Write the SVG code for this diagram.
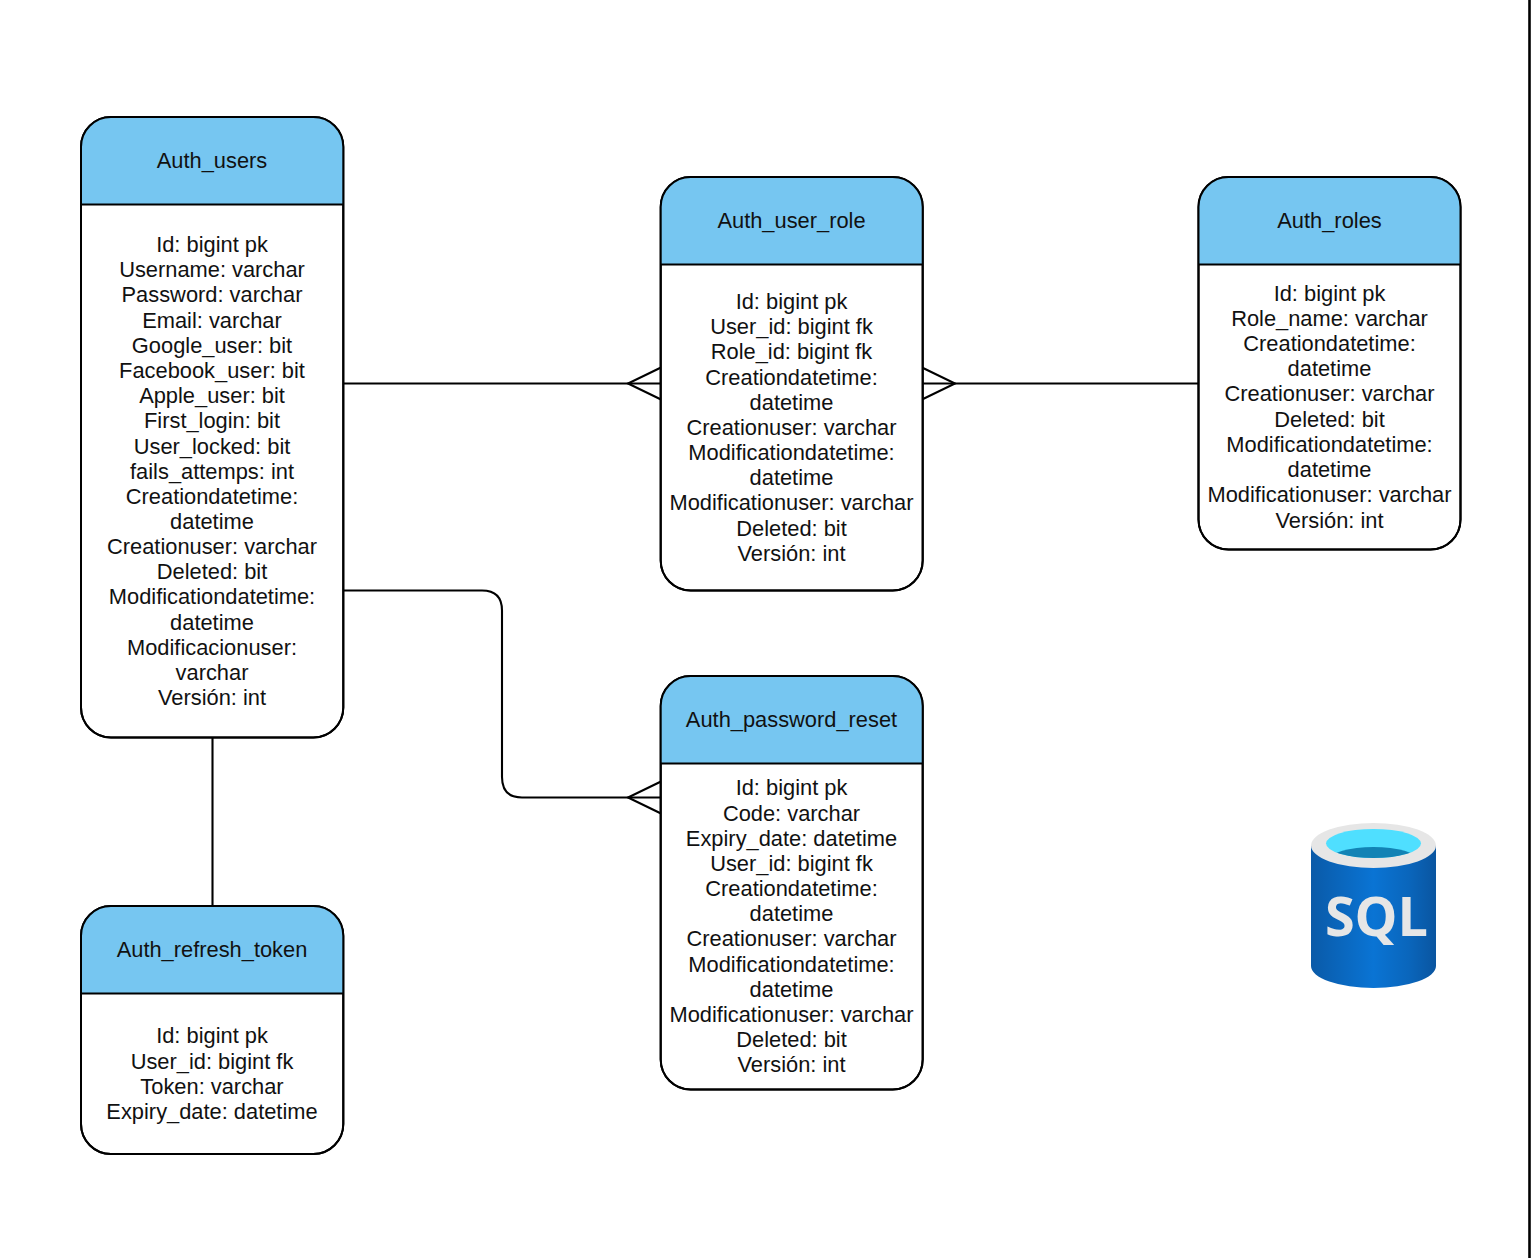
<svg xmlns="http://www.w3.org/2000/svg" width="1532" height="1258" viewBox="0 0 1532 1258">
<style>
.t{font-family:"Liberation Sans",Arial,sans-serif;font-size:21.85px;fill:#111;text-anchor:middle}
.box{fill:#fff;stroke:#000;stroke-width:2}
.outline{fill:none;stroke:#000;stroke-width:2}
.head{fill:#76c6f1}
.sep{stroke:#000;stroke-width:2;fill:none}
.edge{stroke:#000;stroke-width:2.100;fill:none}
</style>
<defs>
<linearGradient id="cyl" x1="0" x2="1" y1="0" y2="0">
<stop offset="0" stop-color="#0a5aa8"/><stop offset="0.5" stop-color="#0a74d4"/><stop offset="0.78" stop-color="#0a66bc"/><stop offset="1" stop-color="#0a55a0"/>
</linearGradient>
<clipPath id="well"><ellipse cx="1373.500" cy="843.500" rx="47.500" ry="14.500"/></clipPath>
</defs>
<rect width="1532" height="1258" fill="#fff"/>
<path d="M1529.500 0V1258" stroke="#000" stroke-width="2.600" fill="none"/>
<g id="connectors">
<path class="edge" d="M343 383.500H661"/>
<path class="edge" d="M661 367.500L628 383.500L661 399.500"/>
<path class="edge" d="M922 383.500H1198"/>
<path class="edge" d="M922 367.500L955 383.500L922 399.500"/>
<path class="edge" d="M343 590.500H482Q502 590.500 502 610.500V777Q502 797.500 522 797.500H661"/>
<path class="edge" d="M661 781.500L628 797.500L661 813.500"/>
<path class="edge" d="M212.500 737V906"/>
</g>
<g id="auth_users">
<rect class="box" x="81" y="117" width="262.300" height="620.500" rx="30"/>
<path class="head" d="M81 204.500V147A30 30 0 0 1 111 117H313.300A30 30 0 0 1 343.300 147V204.500Z"/>
<rect class="outline" x="81" y="117" width="262.300" height="620.500" rx="30"/>
<path class="sep" d="M81 204.500H343.300"/>
<text class="t" x="212" y="168">Auth_users</text>
<text class="t" x="212" y="252">Id: bigint pk</text>
<text class="t" x="212" y="277">Username: varchar</text>
<text class="t" x="212" y="302">Password: varchar</text>
<text class="t" x="212" y="328">Email: varchar</text>
<text class="t" x="212" y="353">Google_user: bit</text>
<text class="t" x="212" y="378">Facebook_user: bit</text>
<text class="t" x="212" y="403">Apple_user: bit</text>
<text class="t" x="212" y="428">First_login: bit</text>
<text class="t" x="212" y="454">User_locked: bit</text>
<text class="t" x="212" y="479">fails_attemps: int</text>
<text class="t" x="212" y="504">Creationdatetime:</text>
<text class="t" x="212" y="529">datetime</text>
<text class="t" x="212" y="554">Creationuser: varchar</text>
<text class="t" x="212" y="579">Deleted: bit</text>
<text class="t" x="212" y="604">Modificationdatetime:</text>
<text class="t" x="212" y="630">datetime</text>
<text class="t" x="212" y="655">Modificacionuser:</text>
<text class="t" x="212" y="680">varchar</text>
<text class="t" x="212" y="705">Versión: int</text>
</g>
<g id="auth_user_role">
<rect class="box" x="660.700" y="177" width="262" height="413.500" rx="30"/>
<path class="head" d="M660.700 264.500V207A30 30 0 0 1 690.700 177H892.700A30 30 0 0 1 922.700 207V264.500Z"/>
<rect class="outline" x="660.700" y="177" width="262" height="413.500" rx="30"/>
<path class="sep" d="M660.700 264.500H922.700"/>
<text class="t" x="791.500" y="228">Auth_user_role</text>
<text class="t" x="791.500" y="309">Id: bigint pk</text>
<text class="t" x="791.500" y="334">User_id: bigint fk</text>
<text class="t" x="791.500" y="359">Role_id: bigint fk</text>
<text class="t" x="791.500" y="385">Creationdatetime:</text>
<text class="t" x="791.500" y="410">datetime</text>
<text class="t" x="791.500" y="435">Creationuser: varchar</text>
<text class="t" x="791.500" y="460">Modificationdatetime:</text>
<text class="t" x="791.500" y="485">datetime</text>
<text class="t" x="791.500" y="510">Modificationuser: varchar</text>
<text class="t" x="791.500" y="536">Deleted: bit</text>
<text class="t" x="791.500" y="561">Versión: int</text>
</g>
<g id="auth_roles">
<rect class="box" x="1198.500" y="177" width="262" height="372.500" rx="30"/>
<path class="head" d="M1198.500 264.500V207A30 30 0 0 1 1228.500 177H1430.500A30 30 0 0 1 1460.500 207V264.500Z"/>
<rect class="outline" x="1198.500" y="177" width="262" height="372.500" rx="30"/>
<path class="sep" d="M1198.500 264.500H1460.500"/>
<text class="t" x="1329.500" y="228">Auth_roles</text>
<text class="t" x="1329.500" y="301">Id: bigint pk</text>
<text class="t" x="1329.500" y="326">Role_name: varchar</text>
<text class="t" x="1329.500" y="351">Creationdatetime:</text>
<text class="t" x="1329.500" y="376">datetime</text>
<text class="t" x="1329.500" y="401">Creationuser: varchar</text>
<text class="t" x="1329.500" y="427">Deleted: bit</text>
<text class="t" x="1329.500" y="452">Modificationdatetime:</text>
<text class="t" x="1329.500" y="477">datetime</text>
<text class="t" x="1329.500" y="502">Modificationuser: varchar</text>
<text class="t" x="1329.500" y="528">Versión: int</text>
</g>
<g id="auth_password_reset">
<rect class="box" x="660.700" y="676" width="262" height="413.500" rx="30"/>
<path class="head" d="M660.700 763.500V706A30 30 0 0 1 690.700 676H892.700A30 30 0 0 1 922.700 706V763.500Z"/>
<rect class="outline" x="660.700" y="676" width="262" height="413.500" rx="30"/>
<path class="sep" d="M660.700 763.500H922.700"/>
<text class="t" x="791.500" y="727">Auth_password_reset</text>
<text class="t" x="791.500" y="795">Id: bigint pk</text>
<text class="t" x="791.500" y="821">Code: varchar</text>
<text class="t" x="791.500" y="846">Expiry_date: datetime</text>
<text class="t" x="791.500" y="871">User_id: bigint fk</text>
<text class="t" x="791.500" y="896">Creationdatetime:</text>
<text class="t" x="791.500" y="921">datetime</text>
<text class="t" x="791.500" y="946">Creationuser: varchar</text>
<text class="t" x="791.500" y="972">Modificationdatetime:</text>
<text class="t" x="791.500" y="997">datetime</text>
<text class="t" x="791.500" y="1022">Modificationuser: varchar</text>
<text class="t" x="791.500" y="1047">Deleted: bit</text>
<text class="t" x="791.500" y="1072">Versión: int</text>
</g>
<g id="auth_refresh_token">
<rect class="box" x="81" y="906" width="262.300" height="248" rx="30"/>
<path class="head" d="M81 993.500V936A30 30 0 0 1 111 906H313.300A30 30 0 0 1 343.300 936V993.500Z"/>
<rect class="outline" x="81" y="906" width="262.300" height="248" rx="30"/>
<path class="sep" d="M81 993.500H343.300"/>
<text class="t" x="212" y="957">Auth_refresh_token</text>
<text class="t" x="212" y="1043">Id: bigint pk</text>
<text class="t" x="212" y="1069">User_id: bigint fk</text>
<text class="t" x="212" y="1094">Token: varchar</text>
<text class="t" x="212" y="1119">Expiry_date: datetime</text>
</g>
<g id="sql_icon">
<path d="M1311 845.500V966A62.500 22 0 0 0 1436 966V845.500Z" fill="url(#cyl)"/>
<ellipse cx="1373.500" cy="845.500" rx="62.500" ry="22.500" fill="#e6e6e6"/>
<ellipse cx="1373.500" cy="843.500" rx="47.500" ry="14.500" fill="#4fdfff"/>
<ellipse cx="1373.500" cy="860" rx="44" ry="13" fill="#1283b5" clip-path="url(#well)"/>
<text x="1376.500" y="936" font-family="'Open Sans','Noto Sans',sans-serif" font-weight="700" font-size="54" fill="#e6e6e6" text-anchor="middle">SQL</text>
</g>
</svg>
